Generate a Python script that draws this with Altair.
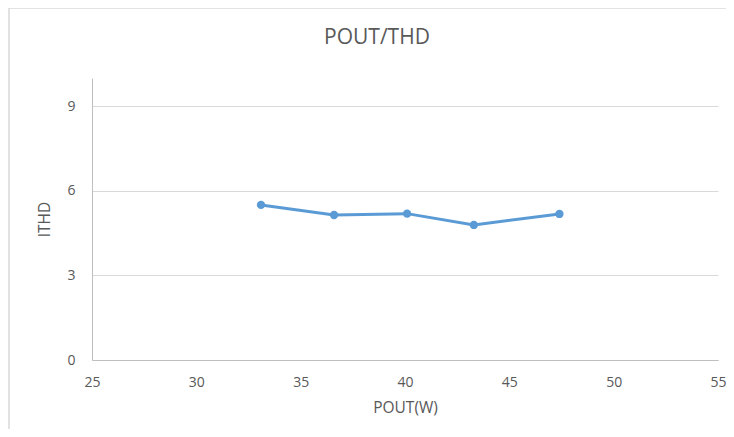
import altair as alt
import pandas as pd

pout = [33.1, 36.6, 40.1, 43.3, 47.4]
ithd = [5.50, 5.14, 5.19, 4.79, 5.18]
title_text = ["POUT/THD"]

df = pd.DataFrame({"POUT": pout, "ITHD": ithd})

W, H = 626, 282
FONT = "Open Sans"
GREY = "#595959"

line = alt.Chart(df).mark_line(
    color="#5b9bd5", strokeWidth=3, point=alt.OverlayMarkDef(size=70, color="#5b9bd5", opacity=1, filled=True)
).encode(
    x=alt.X("POUT:Q", title="POUT(W)",
            scale=alt.Scale(domain=[25, 55], nice=False, zero=False),
            axis=alt.Axis(values=[25, 30, 35, 40, 45, 50, 55], grid=False, ticks=False, labelFlush=False,
                          domainColor="#bfbfbf", labelPadding=15, titlePadding=11)),
    y=alt.Y("ITHD:Q", title="ITHD",
            scale=alt.Scale(domain=[0, 10], nice=False),
            axis=alt.Axis(values=[0, 3, 6, 9], grid=True, gridColor="#d9d9d9", ticks=False, labelFlush=False,
                          domainColor="#bfbfbf", labelPadding=17, titlePadding=14)),
)

border_df = pd.DataFrame({"k": [0]})
left_border = alt.Chart(border_df).mark_rule(color="#d9d9d9", strokeWidth=1.5).encode(
    x=alt.value(-83), y=alt.value(-70), y2=alt.value(H + 69)
)
top_border = alt.Chart(border_df).mark_rule(color="#d9d9d9", strokeWidth=1.5).encode(
    x=alt.value(-83), x2=alt.value(W + 8), y=alt.value(-70)
)
title = alt.Chart(pd.DataFrame({"t": title_text})).mark_text(
    font=FONT, fontSize=21, color=GREY, align="center", baseline="middle"
).encode(text="t:N", x=alt.value(285), y=alt.value(-40))

chart = alt.layer(left_border, top_border, title, line).properties(
    width=W, height=H,
    autosize=alt.AutoSizeParams(type="none"),
    padding={"left": 84, "top": 70, "right": 8, "bottom": 69},
    background="white",
).configure_view(stroke=None).configure_axis(
    labelFont=FONT, labelFontSize=14, labelColor=GREY,
    titleFont=FONT, titleFontSize=15.5, titleColor=GREY, titleFontWeight="normal",
)

chart.save("out.html", embed_options={"renderer": "svg", "actions": False})
